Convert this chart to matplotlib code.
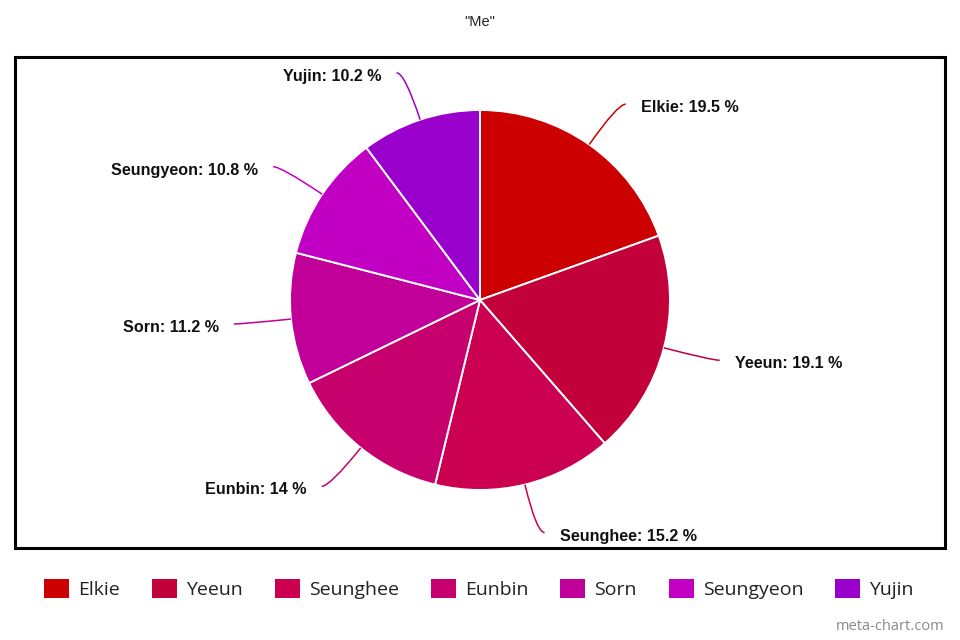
import matplotlib
matplotlib.use("Agg")
import matplotlib.pyplot as plt
import numpy as np
from matplotlib.path import Path
from matplotlib.patches import PathPatch, Rectangle

# ---- data ----
title = '"Me"'
names = ["Elkie", "Yeeun", "Seunghee", "Eunbin", "Sorn", "Seungyeon", "Yujin"]
shares = [19.5, 19.1, 15.2, 14, 11.2, 10.8, 10.2]
share_labels = ["19.5", "19.1", "15.2", "14", "11.2", "10.8", "10.2"]
colors = ["#CC0000", "#C2003A", "#CC0050", "#C6006C", "#C00098", "#C200C4", "#9A00CC"]
watermark = "meta-chart.com"

W, H = 960, 640
fig = plt.figure(figsize=(W / 100, H / 100), dpi=100)
ax = fig.add_axes([0, 0, 1, 1])

def py(y):  # pixel-from-top to data y
    return H - y

cx, cy, R = 480, py(300), 190

wedges, _ = ax.pie(shares, colors=colors, startangle=90, counterclock=False,
                   center=(cx, cy), radius=R,
                   wedgeprops=dict(edgecolor="white", linewidth=1.4))
ax.set_xlim(0, W)
ax.set_ylim(0, H)
ax.set_aspect("equal")
ax.axis("off")

# frame
ax.add_patch(Rectangle((15, py(548)), 930, 491, fill=False, ec="black", lw=2.2))

# labels with curved connectors
total = sum(shares)
cum = 0.0
lab_font = dict(family="Liberation Sans", weight="bold", fontsize=11.6, color="#111111")
for name, v, sl, c in zip(names, shares, share_labels, colors):
    mid = 90 - 360 * (cum + v / 2) / total
    cum += v
    t = np.deg2rad(mid)
    d = np.array([np.cos(t), np.sin(t)])
    A = np.array([cx, cy]) + R * d
    B = np.array([cx, cy]) + 1.26 * R * d
    side = 1 if d[0] >= 0 else -1
    C = B + np.array([side * 8, 0])
    path = Path([A, B, C], [Path.MOVETO, Path.CURVE3, Path.CURVE3])
    ax.add_patch(PathPatch(path, fill=False, ec=c, lw=1.1))
    ax.text(C[0] + side * 15, C[1] - 3.5, f"{name}: {sl} %", ha="left" if side > 0 else "right",
            va="center", **lab_font)

# title
ax.text(480, py(22), title, ha="center", va="center", family="Liberation Sans",
        fontsize=10.5, color="#222222")

# legend (centred row, positions from measured text widths)
fig.canvas.draw()
renderer = fig.canvas.get_renderer()
leg_font = dict(family="Open Sans", fontsize=14, color="#222222")
sq_w, sq_h, gap_in, gap_out = 25, 19, 9, 32
texts = [ax.text(0, 0, n, ha="left", va="center", **leg_font) for n in names]
widths = [t.get_window_extent(renderer).width for t in texts]
total_w = sum(sq_w + gap_in + w for w in widths) + gap_out * (len(names) - 1)
x = 479 - total_w / 2
for t, w, c in zip(texts, widths, colors):
    ax.add_patch(Rectangle((x, py(598)), sq_w, sq_h, fc=c, ec="none"))
    t.set_position((x + sq_w + gap_in, py(590)))
    x += sq_w + gap_in + w + gap_out

ax.text(944, py(627), watermark, ha="right", va="center", family="Open Sans",
        fontsize=10.5, color="#888888")

fig.savefig("out.png", dpi=100)
